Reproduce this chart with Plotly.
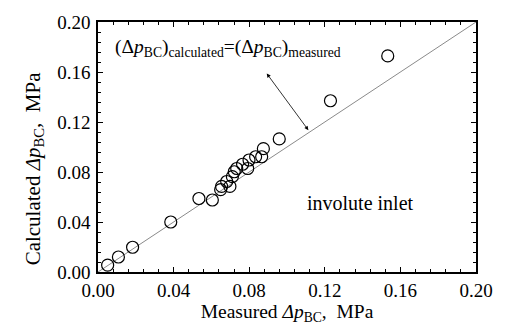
import plotly.graph_objects as go

measured = [0.0051, 0.0108, 0.0183, 0.0385, 0.0534, 0.0605, 0.0649, 0.0654, 0.0698,
            0.0681, 0.0711, 0.0721, 0.0734, 0.0765, 0.0792, 0.0799, 0.0834, 0.0866,
            0.0875, 0.0959, 0.1230, 0.1533]
calculated = [0.0055, 0.0120, 0.0198, 0.0400, 0.0588, 0.0576, 0.0659, 0.0685, 0.0685,
              0.0724, 0.0763, 0.0802, 0.0828, 0.0862, 0.0828, 0.0896, 0.0922, 0.0922,
              0.0987, 0.1065, 0.1370, 0.1729]
line_x = [0.0, 0.2]
line_y = [0.0, 0.2]
tick_vals = [0.0, 0.04, 0.08, 0.12, 0.16, 0.20]
tick_text = ["0.00", "0.04", "0.08", "0.12", "0.16", "0.20"]

FONT = "Liberation Serif"

fig = go.Figure()
fig.add_trace(go.Scatter(x=line_x, y=line_y, mode="lines",
                         line=dict(color="#8a8a8a", width=1), showlegend=False))
fig.add_trace(go.Scatter(x=measured, y=calculated, mode="markers",
                         marker=dict(symbol="circle-open", size=12, color="black",
                                     line=dict(width=1.2, color="black")),
                         showlegend=False))

axis_common = dict(
    range=[0, 0.2], tickvals=tick_vals, ticktext=tick_text,
    ticks="inside", ticklen=5, tickwidth=1, tickcolor="black",
    showline=True, linecolor="black", linewidth=1.5, mirror="ticks",
    showgrid=False, zeroline=False,
    tickfont=dict(family=FONT, size=19, color="black"),
    minor=dict(dtick=0.008, tick0=0, ticks="inside", ticklen=3, tickcolor="black", tickwidth=1),
)

fig.update_layout(
    width=507, height=329,
    margin=dict(l=98, r=31, t=16, b=57),
    paper_bgcolor="white", plot_bgcolor="white",
    font=dict(family=FONT, size=19, color="black"),
    xaxis=dict(**axis_common, ticklabelstandoff=0,
               title=dict(text="Measured <i>Δp</i><sub>BC</sub>,  MPa",
                          font=dict(family=FONT, size=19.5), standoff=2)),
    yaxis=dict(**axis_common, ticklabelstandoff=2),
)

fig.add_annotation(x=-0.169, y=0.415, xref="paper", yref="paper",
                   xanchor="center", yanchor="middle", textangle=-90,
                   text="Calculated <i>Δp</i><sub>BC</sub>,  MPa", showarrow=False,
                   font=dict(family=FONT, size=21, color="black"))
fig.add_annotation(x=0.0078, y=0.1795, xref="x", yref="y", xanchor="left", yanchor="middle",
                   text="(Δ<i>p</i><sub>BC</sub>)<sub>calculated</sub>=(Δ<i>p</i><sub>BC</sub>)<sub>measured</sub>",
                   showarrow=False, font=dict(family=FONT, size=19.5, color="black"))
fig.add_annotation(x=0.1113, y=0.1135, ax=0.0887, ay=0.1600, xref="x", yref="y",
                   axref="x", ayref="y", text="", showarrow=True,
                   arrowhead=2, startarrowhead=2, arrowside="end+start",
                   arrowsize=1, arrowwidth=0.8, arrowcolor="black")
fig.add_annotation(x=0.1095, y=0.0555, xref="x", yref="y", xanchor="left", yanchor="middle",
                   text="involute inlet", showarrow=False,
                   font=dict(family=FONT, size=20, color="black"))

fig.write_html("out.html")
